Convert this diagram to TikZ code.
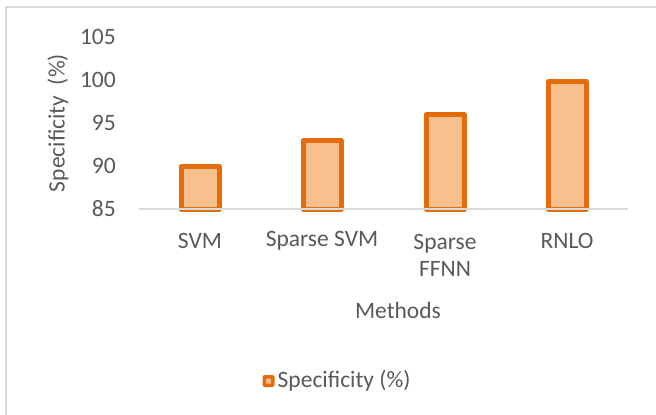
\documentclass[tikz,border=0pt]{standalone}
\usepackage{fontspec}
\setmainfont{Carlito}
\definecolor{barline}{RGB}{228,108,10}
\definecolor{barfill}{RGB}{249,192,143}
\definecolor{txt}{RGB}{89,89,89}
\definecolor{gridc}{RGB}{217,217,217}
\begin{document}
\begin{tikzpicture}[x=1pt,y=-1pt,
  lbl/.style={text=txt,font=\fontsize{23.5}{27}\selectfont,inner sep=0pt},
  bar/.style={draw=barline,fill=barfill,line width=5pt,line join=round}]
\useasboundingbox (0,0) rectangle (656,415);
\begin{scope}
\clip (0,0) rectangle (656,415);
\draw[gridc,line width=1.5pt] (6,7) rectangle (700,460);
\end{scope}
% y tick labels
\foreach \v/\yy in {105/37,100/80,95/123,90/166,85/209}
  \node[lbl,anchor=east] (t\v) at (116,\yy) {\v};
% axis title
\node[lbl,rotate=90] (ytitle) at (58,123) {Specificity\ \ (\%)};
% bars
\foreach \n/\cx/\top in {a/200/166.5,b/322/140.5,c/445/114.5,d/567/81.5}
  \draw[bar] (\cx-19,209) rectangle (\cx+19,\top);
% axis line
\coordinate (axl) at (139,209);
\coordinate (axr) at (628,209);
\draw[gridc,line width=1.5pt] (axl) -- (axr);
% category labels
\node[lbl] (c1) at (200,241) {SVM};
\node[lbl] (c2) at (322,241) {Sparse SVM};
\node[lbl,align=center] (c3) at (445,255) {Sparse\\FFNN};
\node[lbl] (c4) at (567,241) {RNLO};
\node[lbl] (xtitle) at (398,310) {Methods};
% legend
\node[draw=barline,fill=barfill,line width=3.5pt,minimum size=8.5pt,inner sep=0pt,rounded corners=0.5pt] (leg) at (268.5,381) {};
\node[lbl,anchor=west] (legt) at (277.5,381) {Specificity (\%)};
\end{tikzpicture}
\end{document}
